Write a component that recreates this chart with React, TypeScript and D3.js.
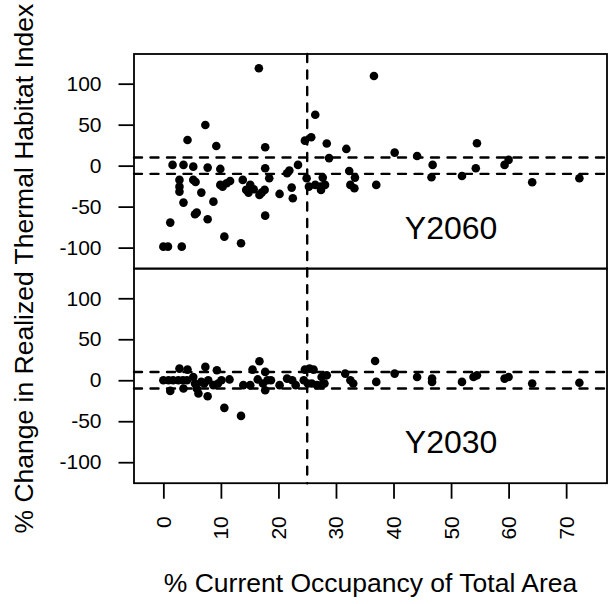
import { useEffect, useRef } from 'react';
import * as d3 from 'd3';

// [% current occupancy, % change in realized thermal habitat index]
const Y2060: [number, number][] = [
  [16.6, 118.8], [26.4, 62], [7.3, 49.6], [4.2, 31.3], [9.2, 24], [17.7, 22.4],
  [24.6, 30.5], [25.7, 34.6], [28.4, 27], [28.8, 9.2], [1.6, 0.9], [3.5, 0.9],
  [5.2, -1.2], [7.7, -2.4], [9.9, -4], [17.7, -3.2], [18.4, -15.4], [23.4, 0.9],
  [21.5, -9.3], [21.9, -6], [2.8, -17.4], [2.8, -25.6], [2.8, -31.7], [5.2, -17.4],
  [5.6, -20], [6.6, -32.9], [3.5, -45.1], [5.5, -59.3], [5.8, -57.3], [7.7, -65.4],
  [8.7, -43.9], [1.2, -69.5], [0, -98.8], [0.8, -98.8], [3.2, -98.8], [10.6, -86.6],
  [13.5, -94.6], [17.7, -61], [9.9, -23.5], [10.3, -25.6], [11, -21.5], [11.6, -18.7],
  [13.8, -17.4], [14.4, -29.6], [15.1, -23.5], [15.7, -28.8], [14.8, -32.9], [16.7, -35.7],
  [17.1, -32.9], [17.6, -29.6], [20.2, -34.5], [22.3, -26.8], [22.5, -39.8], [24.9, -15.4],
  [25.3, -25.6], [26.4, -23.5], [27.3, -25.6], [27.7, -14.6], [27.4, -29.6], [28.1, -23.5],
  [36.6, 109.4], [31.8, 20.4], [40.2, 15.9], [44.1, 11.8], [46.8, 0.9], [46.6, -14.1],
  [51.9, -12.6], [54.5, 27.3], [54.3, -3.2], [59.3, 0.9], [60, 7], [64.1, -20.2],
  [72.3, -15.4], [32.3, -6.5], [33.3, -14.6], [32.5, -23.5], [33.2, -27.6], [37, -23.5],
];

const Y2030: [number, number][] = [
  [0, 0], [0.9, 0], [1.7, 0], [2.6, 0], [3.4, 0], [4.1, 0], [1.2, -13], [2.8, 14.2],
  [4.2, 13], [3.5, -10], [5.2, 4], [5.5, -4], [5.8, -10], [6.1, -16.2], [7.3, 16.3],
  [6.6, -2], [7.1, -4], [7.8, 0], [7.7, -19.5], [9.3, 12.2], [8.7, -6], [9.5, -4],
  [10.1, 0], [11.5, 1], [10.6, -33.7], [13.5, -43.5], [13.9, -6], [15.1, -6], [15.5, 13],
  [16.7, 23.2], [17.7, 10.2], [16.4, 1], [17.3, -4], [18.1, 0], [18.7, 0], [17.7, -12.2],
  [20.2, -6], [21.5, 2], [22.4, 0], [23, -6], [24.6, 13], [25.4, 14.2], [26.1, 13],
  [25.1, -4], [25.8, -4], [26.7, -6], [27.5, -6], [28.4, 6], [24.4, 0], [28, -4],
  [27.5, 4], [31.6, 8.1], [32.5, 0], [33, -4], [36.8, 23.5], [37, -2], [40.2, 8.1],
  [44.1, 4], [46.7, 2], [46.7, -2], [51.9, -2], [54.5, 6], [53.9, 4], [59.3, 2],
  [60, 4], [64.1, -4], [72.3, -3],
];

const PANELS = [
  { label: 'Y2060', points: Y2060 },
  { label: 'Y2030', points: Y2030 },
];

const X_TICKS = [0, 10, 20, 30, 40, 50, 60, 70];
const Y_TICKS = [-100, -50, 0, 50, 100];
const THRESHOLDS = [-10, 10];
const OCCUPANCY_CUTOFF = 25;

const WIDTH = 615;
const HEIGHT = 604;
const LEFT = 134;
const RIGHT = 607;
const TOP = 54;
const PANEL_H = 214.6;

const FONT = '"Liberation Sans", Arial, sans-serif';
const DASH = '8,8.5';

export default function App() {
  const svgRef = useRef<SVGSVGElement>(null);

  useEffect(() => {
    const svg = d3.select(svgRef.current);
    svg.selectAll('*').remove();
    svg.style('font-family', FONT);

    const x = d3.scaleLinear().domain([-5.1, 77.1]).range([LEFT, RIGHT]);

    PANELS.forEach((panel, i) => {
      const top = TOP + i * PANEL_H;
      const bottom = top + PANEL_H;
      const y = d3.scaleLinear().domain([-125.6, 136.2]).range([bottom, top]);
      const g = svg.append('g');

      // threshold lines at +/-10 and the 25% occupancy cut
      THRESHOLDS.forEach((t) => {
        g.append('line')
          .attr('x1', LEFT).attr('x2', RIGHT)
          .attr('y1', y(t)).attr('y2', y(t))
          .attr('stroke', '#000').attr('stroke-width', 2.4)
          .attr('stroke-dasharray', DASH).attr('stroke-linecap', 'round');
      });
      g.append('line')
        .attr('x1', x(OCCUPANCY_CUTOFF)).attr('x2', x(OCCUPANCY_CUTOFF))
        .attr('y1', top).attr('y2', bottom)
        .attr('stroke', '#000').attr('stroke-width', 2.4)
        .attr('stroke-dasharray', DASH).attr('stroke-linecap', 'round');

      g.selectAll('circle')
        .data(panel.points)
        .join('circle')
        .attr('cx', (d) => x(d[0]))
        .attr('cy', (d) => y(d[1]))
        .attr('r', 4.3)
        .attr('fill', '#000');

      g.append('rect')
        .attr('x', LEFT).attr('y', top)
        .attr('width', RIGHT - LEFT).attr('height', PANEL_H)
        .attr('fill', 'none').attr('stroke', '#000').attr('stroke-width', 1.8);

      // y axis
      const yAxis = d3.axisLeft(y).tickValues(Y_TICKS).tickSize(15).tickPadding(17)
        .tickFormat((d) => String(d));
      g.append('g')
        .attr('transform', `translate(${LEFT - 0.5},0)`)
        .call(yAxis)
        .call((sel) => sel.select('.domain').remove())
        .call((sel) => sel.selectAll('line').attr('stroke-width', 1.8))
        .selectAll('text')
        .style('font-size', '21px')
        .style('font-family', FONT)
        .attr('fill', '#000');

      g.append('text')
        .attr('x', x(50))
        .attr('y', y(-75) + 11.5)
        .attr('text-anchor', 'middle')
        .style('font-size', '32px')
        .text(panel.label);
    });

    // x axis under the lower panel
    const axisY = TOP + 2 * PANEL_H;
    const xAxis = d3.axisBottom(x).tickValues(X_TICKS).tickSize(15).tickFormat(() => '');
    svg.append('g')
      .attr('transform', `translate(0,${axisY + 0.5})`)
      .call(xAxis)
      .call((sel) => sel.select('.domain').remove())
      .call((sel) => sel.selectAll('line').attr('stroke-width', 1.8));

    svg.append('g')
      .selectAll('text')
      .data(X_TICKS)
      .join('text')
      .attr('transform', (d) => `translate(${x(d)},${axisY + 33}) rotate(-90)`)
      .attr('text-anchor', 'end')
      .attr('dominant-baseline', 'central')
      .style('font-size', '21px')
      .text((d) => d);

    svg.append('text')
      .attr('x', (LEFT + RIGHT) / 2)
      .attr('y', 592)
      .attr('text-anchor', 'middle')
      .style('font-size', '26.5px')
      .text('% Current Occupancy of Total Area');

    svg.append('text')
      .attr('transform', `translate(33,${TOP + PANEL_H}) rotate(-90)`)
      .attr('text-anchor', 'middle')
      .style('font-size', '26.5px')
      .text('% Change in Realized Thermal Habitat Index');
  }, []);

  return (
    <svg
      ref={svgRef}
      width={WIDTH}
      height={HEIGHT}
      style={{ position: 'absolute', left: 0, top: 0, background: '#fff' }}
    />
  );
}
